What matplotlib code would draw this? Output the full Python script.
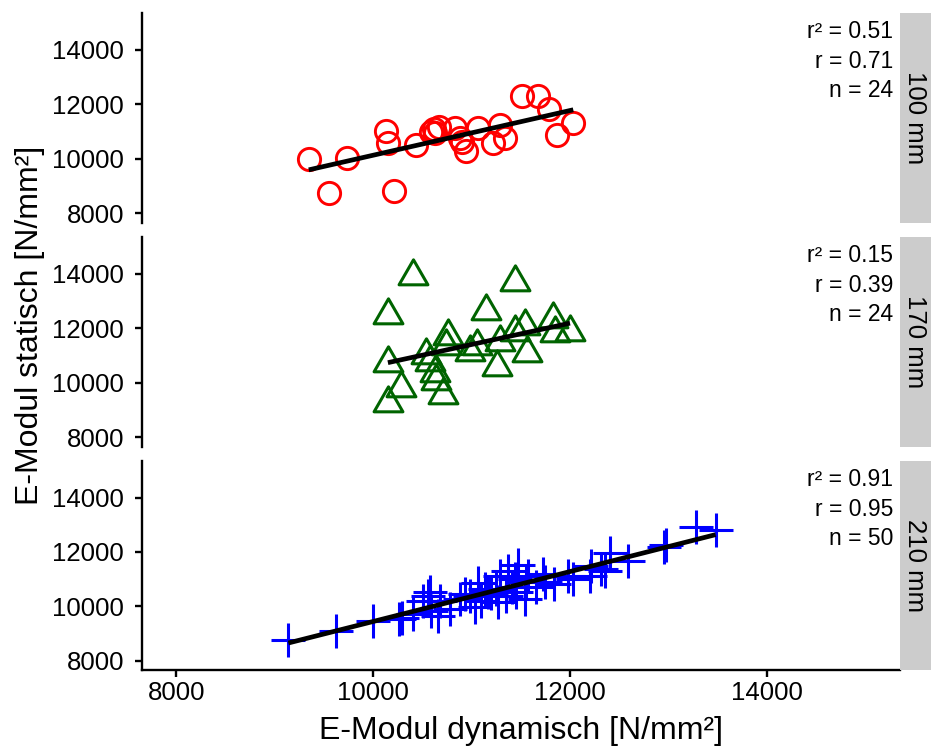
import numpy as np
import matplotlib
matplotlib.use('Agg')
import matplotlib.pyplot as plt
from matplotlib.path import Path

plt.rcParams['font.family'] = ['Liberation Sans', 'DejaVu Sans']

# Daten: E-Modul dynamisch (x) und statisch (y) je Probenlänge
x_100 = [9344, 9554, 9731, 10125, 10148, 10209, 10437, 10590, 10613, 10623, 10827, 10878,
         10905, 10946, 11064, 11217, 11285, 11336, 11506, 11675, 11787, 11862, 12031, 10670]
y_100 = [10015, 8756, 10037, 11037, 10593, 8815, 10507, 11000, 11089, 10941, 11126, 10756,
         10630, 10285, 11126, 10593, 11248, 10756, 12322, 12322, 11830, 10878, 11311, 11174]

x_170 = [10402, 11438, 10148, 11143, 10759, 11438, 11540, 11822, 11998, 11845, 10148, 10539,
         11048, 10980, 11252, 11557, 10284, 10148, 10641, 10708, 10623, 10572, 11285, 10742]
y_170 = [13934, 13685, 12500, 12622, 11733, 11859, 12082, 12326, 11859, 11833, 10722, 11019,
         11341, 11141, 10600, 11093, 9822, 9267, 10067, 9574, 10378, 10770, 11511, 11363]

x_210 = [9137, 9616, 10000, 10257, 10288, 10399, 10504, 10575, 10585, 10657, 10677, 10779,
         10554, 10982, 11033, 11063, 11094, 11165, 11196, 11247, 11267, 11288, 11349, 11369,
         11441, 11451, 11471, 11542, 11552, 11573, 11654, 11746, 11980, 12031, 12204, 12214,
         12316, 12357, 12408, 12591, 12948, 12968, 13274, 13477, 10878, 10929, 11407, 11132,
         11725, 11837]
y_210 = [8741, 9074, 9444, 9519, 9556, 9704, 10185, 10519, 9815, 9630, 10185, 9889,
         10370, 10370, 9963, 10852, 10185, 10519, 10481, 10630, 10148, 11111, 10370, 11296,
         11000, 10519, 11519, 10259, 10889, 11111, 10704, 10889, 11111, 11000, 11111, 11481,
         11370, 11296, 11963, 11667, 12185, 12259, 12926, 12815, 10259, 10444, 10704, 10630,
         11185, 10815]

groups = ['100 mm', '170 mm', '210 mm']
r2_vals = [0.51, 0.15, 0.91]
r_vals = [0.71, 0.39, 0.95]

xs = [x_100, x_170, x_210]
ys = [y_100, y_170, y_210]
colors = ['#ff0000', '#006400', '#0000ff']

# offenes Dreieck wie in ggplot (shape 2)
tri = Path([(0, 1.155), (-1, -0.577), (1, -0.577), (0, 1.155)], closed=True)

W, H = 931, 749
fig = plt.figure(figsize=(W / 100, H / 100), dpi=100)

panel_px = [(13, 223), (237, 447), (461, 670)]
left, right, strip_r = 142, 900, 931

for i in range(3):
    top, bot = panel_px[i]
    ax = fig.add_axes([left / W, 1 - bot / H, (right - left) / W, (bot - top) / H])
    x = np.array(xs[i])
    y = np.array(ys[i])
    if i == 0:
        ax.plot(x, y, linestyle='none', marker='o', ms=16, mfc='none',
                mec=colors[i], mew=2.1)
    elif i == 1:
        ax.plot(x, y, linestyle='none', marker=tri, ms=24, mfc='none',
                mec=colors[i], mew=2.2)
    else:
        ax.plot(x, y, linestyle='none', marker='+', ms=24, color=colors[i], mew=2.2)

    # Regressionsgerade
    k, d = np.polyfit(x, y, 1)
    xl = np.array([x.min(), x.max()])
    ax.plot(xl, k * xl + d, color='black', lw=3.4, solid_capstyle='butt')

    ax.set_xlim(7650, 15350)
    ax.set_ylim(7650, 15350)
    ax.set_yticks([8000, 10000, 12000, 14000])
    ax.set_xticks([8000, 10000, 12000, 14000])
    ax.spines['top'].set_visible(False)
    ax.spines['right'].set_visible(False)
    ax.spines['left'].set_linewidth(1.7)
    ax.spines['bottom'].set_linewidth(1.7)
    ax.tick_params(axis='x', labelsize=18.5, width=1.7, length=5, color='black', pad=3)
    ax.tick_params(axis='y', labelsize=18.5, width=1.7, length=5, color='black', pad=8)
    if i < 2:
        ax.spines['bottom'].set_visible(False)
        ax.tick_params(axis='x', bottom=False, labelbottom=False)

    txt = 'r² = %.2f\nr = %.2f\nn = %d' % (r2_vals[i], r_vals[i], len(x))
    ax.text(0.991, 0.965, txt, transform=ax.transAxes, ha='right', va='top',
            fontsize=16.5, linespacing=1.36)

    sax = fig.add_axes([right / W, 1 - bot / H, (strip_r - right) / W, (bot - top) / H])
    sax.set_facecolor('#cccccc')
    sax.set_xticks([])
    sax.set_yticks([])
    for s in sax.spines.values():
        s.set_visible(False)
    sax.text(0.5, 0.5, groups[i], transform=sax.transAxes, rotation=-90,
             ha='center', va='center', fontsize=18.5)

fig.text(521 / W, 1 - 731 / H, 'E-Modul dynamisch [N/mm²]', ha='center', va='center', fontsize=23)
fig.text(30 / W, 1 - 325 / H, 'E-Modul statisch [N/mm²]', ha='center', va='center',
         rotation=90, fontsize=23)

fig.savefig('out.png', dpi=100)
